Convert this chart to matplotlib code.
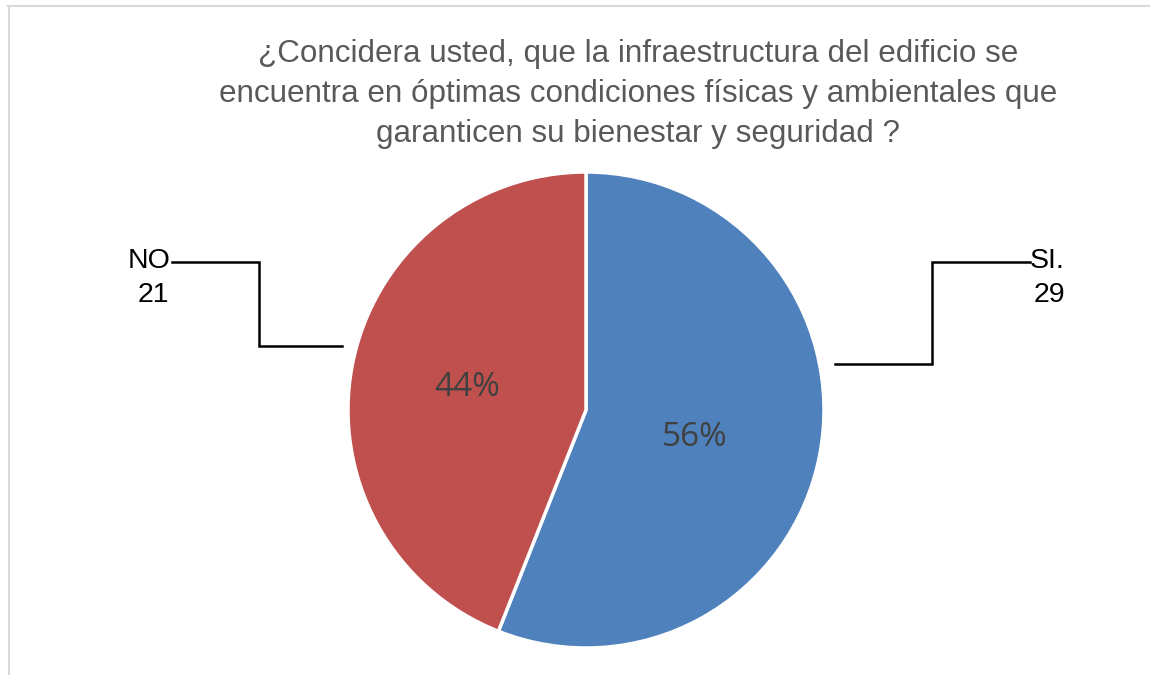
import matplotlib.pyplot as plt
from matplotlib.lines import Line2D

# Data
categories = ['SI.', 'NO']
counts = [29, 21]          # values shown in the outside labels
percents = [56, 44]        # shares shown on the slices
colors = ['#4F81BD', '#C0504D']

title = ('¿Concidera usted, que la infraestructura del edificio se\n'
         'encuentra en óptimas condiciones físicas y ambientales que\n'
         'garanticen su bienestar y seguridad ?')

W, H = 1150, 675
fig = plt.figure(figsize=(W / 100, H / 100), dpi=100)
ax = fig.add_axes([0, 0, 1, 1])


# pixel helper: y from top
def py(y):
    return H - y


# thin gray frame (top and left edges visible)
fig.add_artist(Line2D([8 / W, 1], [py(6) / H, py(6) / H], color='#d9d9d9', lw=1.5))
fig.add_artist(Line2D([8.5 / W, 8.5 / W], [0, py(6) / H], color='#d9d9d9', lw=1.5))

wedges, _ = ax.pie(percents, colors=colors, startangle=90, counterclock=False,
                   center=(586, py(410)), radius=238, frame=True,
                   wedgeprops=dict(edgecolor='white', linewidth=2.5))
ax.set_xlim(0, W)
ax.set_ylim(0, H)
ax.set_aspect('equal')
ax.axis('off')

# percentage labels inside slices
pct_pos = [(695, 437), (467, 388)]
for p, (x, y) in zip(percents, pct_pos):
    ax.text(x, py(y), f'{p}%', ha='center', va='center',
            fontsize=24, color='#404040', family='Open Sans')

# category/value labels with leader lines
lab_pos = [(1047, 1049), (149.5, 153)]
for cat, n, (xc, xn) in zip(categories, counts, lab_pos):
    ax.text(xc, py(261), cat, ha='center', va='center', fontsize=20.5,
            family='Liberation Sans', color='black')
    ax.text(xn, py(295), str(n), ha='center', va='center', fontsize=20.5,
            family='Liberation Sans', color='black')

ax.plot([835, 932, 932, 1030], [py(364), py(364), py(262), py(262)],
        color='black', lw=1.8, solid_joinstyle='miter')
ax.plot([172, 259, 259, 342], [py(262), py(262), py(346), py(346)],
        color='black', lw=1.8, solid_joinstyle='miter')

ax.text(638, py(94), title, ha='center', va='center', fontsize=22.6,
        color='#595959', family='Liberation Sans', linespacing=1.43)

fig.savefig('out.png', dpi=100)
